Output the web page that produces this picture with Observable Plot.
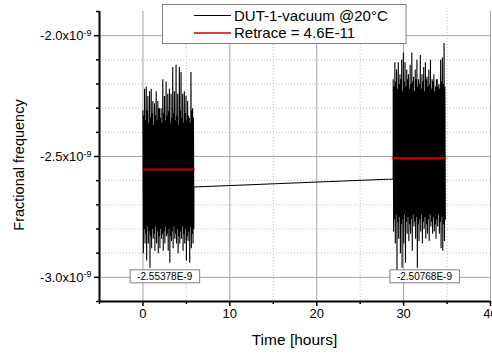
<!DOCTYPE html>
<html><head><meta charset="utf-8">
<script src="https://cdn.jsdelivr.net/npm/d3@7"></script>
<script src="https://cdn.jsdelivr.net/npm/@observablehq/plot@0.6"></script>
<style>
html,body{margin:0;padding:0;background:#fff;}
#chart{position:relative;width:492px;height:354px;overflow:hidden;}
</style></head><body><div id="chart"></div>
<script>
// ---- data (fractional frequency values in units of 1e-9) ----
const seriesName = "DUT-1-vacuum @20°C";
const retraceLabel = "Retrace = 4.6E-11";
const xTitle = "Time [hours]";
const yTitle = "Fractional frequency";

const run1Time = [0, 5.86];     // hours
const run2Time = [28.8, 34.8];  // hours

// upper / lower extremes of the noisy trace, read left to right
const highs1 = [-2.31,-2.33,-2.22,-2.35,-2.21,-2.31,-2.25,-2.36,-2.23,-2.34,-2.22,-2.32,-2.27,-2.37,-2.28,-2.33,
  -2.23,-2.35,-2.27,-2.30,-2.30,-2.34,-2.30,-2.36,-2.18,-2.32,-2.25,-2.35,-2.19,-2.33,-2.24,-2.31,-2.22,-2.36,
  -2.24,-2.34,-2.13,-2.32,-2.23,-2.35,-2.12,-2.33,-2.24,-2.37,-2.13,-2.31,-2.15,-2.34,-2.24,-2.36,-2.23,-2.32,
  -2.25,-2.35,-2.27,-2.33,-2.34,-2.36,-2.15,-2.31,-2.30,-2.34];
const lows1 = [-2.90,-2.80,-2.86,-2.82,-2.93,-2.79,-2.86,-2.81,-2.96,-2.83,-2.88,-2.80,-2.84,-2.82,-2.89,-2.79,
  -2.86,-2.81,-2.90,-2.83,-2.88,-2.80,-2.84,-2.82,-2.89,-2.81,-2.86,-2.79,-2.83,-2.82,-2.89,-2.80,-2.94,-2.83,
  -2.85,-2.81,-2.88,-2.79,-2.84,-2.82,-2.86,-2.80,-2.90,-2.83,-2.86,-2.81,-2.84,-2.79,-2.89,-2.82,-2.86,-2.80,
  -2.93,-2.83,-2.85,-2.81,-2.94,-2.79,-2.88,-2.82,-2.86,-2.80];
const highs2 = [-2.18,-2.21,-2.11,-2.19,-2.14,-2.22,-2.11,-2.20,-2.16,-2.18,-2.10,-2.23,-2.07,-2.19,-2.11,-2.21,
  -2.14,-2.18,-2.16,-2.22,-2.12,-2.20,-2.07,-2.19,-2.17,-2.23,-2.14,-2.18,-2.10,-2.21,-2.18,-2.20,-2.08,-2.22,
  -2.16,-2.19,-2.13,-2.23,-2.11,-2.18,-2.17,-2.21,-2.14,-2.20,-2.10,-2.22,-2.18,-2.19,-2.16,-2.23,-2.21,-2.18,
  -2.18,-2.21,-2.20,-2.22,-2.10,-2.19,-2.09,-2.20,-2.03,-2.21];
const lows2 = [-2.81,-2.76,-2.86,-2.74,-2.97,-2.77,-2.84,-2.75,-2.90,-2.78,-2.96,-2.76,-2.86,-2.74,-2.94,-2.77,
  -2.82,-2.75,-2.85,-2.78,-2.82,-2.76,-2.89,-2.74,-2.79,-2.77,-2.84,-2.75,-2.96,-2.78,-2.85,-2.76,-2.81,-2.74,
  -2.86,-2.77,-2.80,-2.75,-2.84,-2.78,-2.82,-2.76,-2.85,-2.74,-2.79,-2.77,-2.82,-2.75,-2.81,-2.78,-2.84,-2.76,
  -2.79,-2.74,-2.82,-2.77,-2.88,-2.75,-2.89,-2.78,-2.85,-2.76];
const gapValues = [-2.626, -2.593]; // trace at end of run 1 / start of run 2

const means = [-2.55378, -2.50768];
const meanLabels = ["-2.55378E-9", "-2.50768E-9"];
const meanLabelTimes = [2.5, 32.4];
const meanLabelLevel = -2.997;

const xMajor = [0, 10, 20, 30, 40];
const xMinor = [-5, 5, 15, 25, 35];
const yMajor = [-3.0, -2.5, -2.0];
const yMinor = [-3.1, -2.9, -2.8, -2.7, -2.6, -2.4, -2.3, -2.2, -2.1, -1.9];
const yExponent = "-9";

// ---- styles ----
const font = "'Liberation Sans', Arial, Helvetica, sans-serif";
const red = "#d40000";
const gridMajor = "#a4a4a4";
const gridMinor = "#bdbdbd";
const boxStroke = "#808080";

function zigzag(times, highs, lows) {
  const n = highs.length * 2;
  const dt = (times[1] - times[0]) / (n - 1);
  const out = [];
  highs.forEach((h, i) => {
    out.push({t: times[0] + 2 * i * dt, v: h});
    out.push({t: times[0] + (2 * i + 1) * dt, v: lows[i]});
  });
  return out;
}
const trace = [
  ...zigzag(run1Time, highs1, lows1),
  {t: run1Time[1], v: gapValues[0]},
  {t: run2Time[0], v: gapValues[1]},
  ...zigzag(run2Time, highs2, lows2)
];
const runs = [run1Time, run2Time];
const meanLines = runs.flatMap((r, i) => [{t: r[0], v: means[i], run: i}, {t: r[1], v: means[i], run: i}]);
const annots = meanLabels.map((s, i) => ({t: meanLabelTimes[i], v: meanLabelLevel, label: s}));

const xLo = xMinor[0], yLo = yMinor[0], yHi = yMinor[yMinor.length - 1];

const chart = Plot.plot({
  width: 492, height: 354,
  marginLeft: 99, marginRight: 2, marginTop: 11, marginBottom: 53,
  style: {fontFamily: font, background: "#fff", color: "#000"},
  x: {domain: [xLo, 40]},
  y: {domain: [yLo, yHi]},
  marks: [
    Plot.gridX(xMinor.filter(d => d > xLo), {stroke: gridMinor, strokeOpacity: 1, strokeDasharray: "1,2"}),
    Plot.gridY(yMinor.filter(d => d > yLo && d < yHi), {stroke: gridMinor, strokeOpacity: 1, strokeDasharray: "1,2"}),
    Plot.gridX(xMajor, {stroke: gridMajor, strokeOpacity: 1}),
    Plot.gridY(yMajor, {stroke: gridMajor, strokeOpacity: 1}),
    Plot.line(trace, {x: "t", y: "v", stroke: "#000", strokeWidth: 1.1, strokeLinejoin: "miter", strokeMiterlimit: 2}),
    Plot.line(meanLines, {x: "t", y: "v", z: "run", stroke: red, strokeWidth: 2}),
    Plot.text(annots, {x: "t", y: "v", text: "label", fontSize: 10, fill: "#000"}),
    Plot.axisX(xMajor, {tickSize: 5, tickPadding: 2, fontSize: 13, strokeWidth: 1.5, label: null}),
    Plot.axisX(xMinor, {tickSize: 3, tickFormat: () => "", strokeWidth: 1.5, label: null}),
    Plot.axisY(yMajor, {tickSize: 5, tickPadding: 3, fontSize: 13, strokeWidth: 1.5, label: null,
      tickFormat: d => d.toFixed(1) + "x10"}),
    Plot.axisY(yMinor, {tickSize: 3, tickFormat: () => "", strokeWidth: 1.5, label: null}),
    Plot.ruleX([xLo], {strokeWidth: 2}),
    Plot.ruleY([yLo], {strokeWidth: 2})
  ]
});
document.getElementById("chart").appendChild(chart);

const svg = d3.select(chart);
// superscript exponent on y tick labels
svg.selectAll("text").each(function() {
  if (/x10$/.test(this.textContent)) d3.select(this).append("tspan").attr("dy", "-0.45em").attr("font-size", 9).text(yExponent);
});
// boxes behind mean labels
svg.selectAll("text").each(function() {
  if (!meanLabels.includes(this.textContent)) return;
  const b = this.getBBox();
  const r = document.createElementNS("http://www.w3.org/2000/svg", "rect");
  r.setAttribute("x", b.x - 7); r.setAttribute("y", b.y + b.height / 2 - 6.5);
  r.setAttribute("width", b.width + 14); r.setAttribute("height", 13);
  r.setAttribute("fill", "#fff"); r.setAttribute("stroke", boxStroke);
  if (this.getAttribute("transform")) r.setAttribute("transform", this.getAttribute("transform"));
  this.parentNode.insertBefore(r, this);
});
// axis titles
svg.append("text").attr("x", 294.5).attr("y", 345).attr("text-anchor", "middle")
  .attr("font-size", 15.5).attr("font-family", font).text(xTitle);
svg.append("text").attr("transform", "translate(24,165) rotate(-90)").attr("text-anchor", "middle")
  .attr("font-size", 14.5).attr("font-family", font).text(yTitle);
// legend
const lg = svg.append("g").attr("font-family", font).attr("font-size", 15).attr("text-anchor", "start");
lg.append("rect").attr("x", 162.5).attr("y", 4.5).attr("width", 243.5).attr("height", 39)
  .attr("fill", "#fff").attr("stroke", boxStroke);
[[seriesName, "#000", 15.5, 1], [retraceLabel, red, 33, 1.6]].forEach(([label, c, y, w]) => {
  lg.append("line").attr("x1", 194).attr("x2", 231).attr("y1", y).attr("y2", y).attr("stroke", c).attr("stroke-width", w);
  lg.append("text").attr("x", 234).attr("y", y + 5.3).attr("text-anchor", "start").text(label);
});
</script></body></html>
